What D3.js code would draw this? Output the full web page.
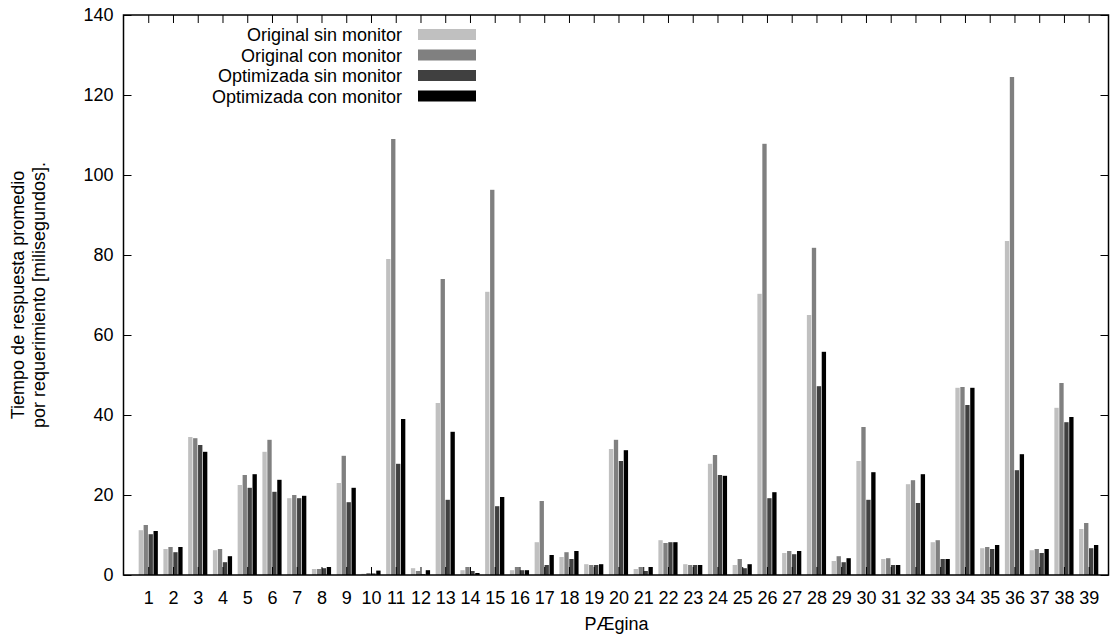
<!DOCTYPE html>
<html>
<head>
<meta charset="utf-8">
<script src="https://cdn.jsdelivr.net/npm/d3@7"></script>
<style>
  body { margin: 0; background: #fff; }
  text { font-family: "Liberation Sans", Arial, sans-serif; }
</style>
</head>
<body>
<div id="chart"></div>
<script>
// pages 1..39
var paginas = d3.range(1, 40);
var series = ["Original sin monitor", "Original con monitor", "Optimizada sin monitor", "Optimizada con monitor"];
var colores = ["#c0c0c0", "#808080", "#404040", "#000000"];

var origSin = [11.2,6.5,34.5,6.2,22.5,30.8,19.2,1.5,23,0.3,79,1.7,43,1.2,70.8,1.2,8.2,4.5,2.7,31.5,
               1.5,8.7,2.7,27.8,2.5,70.3,5.5,65,3.5,28.5,4,22.7,8.2,46.8,6.7,83.5,6.2,41.8,11.5];
var origCon = [12.5,7,34.2,6.5,25,33.8,20,1.5,29.8,0.5,109,1,74,2,96.3,2,18.5,5.7,2.5,33.8,
               2,8,2.5,30,4,107.8,6,81.8,4.7,37,4.2,23.7,8.7,47,7,124.5,6.5,48,13];
var optSin  = [10.2,5.7,32.5,3.2,21.8,20.8,19.2,1.7,18.2,0.4,27.8,0.2,18.8,1,17.2,1.2,2.5,4,2.5,28.5,
               1,8.2,2.5,25,1.7,19.2,5.2,47.2,3.2,18.8,2.5,18,4,42.5,6.5,26.2,5.5,38.2,6.7];
var optCon  = [11,7,30.8,4.7,25.2,23.8,19.8,2,21.8,1.1,39,1.2,35.8,0.5,19.5,1.2,5,6,2.7,31.2,
               2,8.2,2.5,24.8,2.7,20.7,6,55.8,4.2,25.7,2.5,25.2,4,46.8,7.5,30.2,6.5,39.5,7.5];
var valores = [origSin, origCon, optSin, optCon];
var yTicks = [0, 20, 40, 60, 80, 100, 120, 140];

const W = 1110, H = 641;
const plotL = 123.5, plotR = 1108.5, plotT = 15, plotB = 575;
const fontSize = "18px";

var svg = d3.select("#chart").append("svg")
  .attr("width", W)
  .attr("height", H);

var x = d3.scaleLinear().domain([0, 39.8]).range([plotL, plotR]);
var y = d3.scaleLinear().domain([0, 140]).range([plotB, plotT]);

var step = 0.2, bw = 0.175; // bar spacing and width in x units

// bars
valores.forEach(function(vals, k) {
  svg.append("g").selectAll("rect")
    .data(vals)
    .enter().append("rect")
    .attr("x", function(d, i) { return x(paginas[i] + (k - 1.5) * step - bw / 2); })
    .attr("width", x(bw) - x(0))
    .attr("y", function(d) { return y(d); })
    .attr("height", function(d) { return y(0) - y(d); })
    .style("fill", colores[k]);
});

// axes, ticks pointing inward like gnuplot
var tickLen = 8;
var axL = svg.append("g").attr("transform", "translate(" + plotL + ",0)")
  .call(d3.axisLeft(y).tickValues(yTicks).tickSize(-tickLen).tickPadding(10));
var axR = svg.append("g").attr("transform", "translate(" + plotR + ",0)")
  .call(d3.axisRight(y).tickValues(yTicks).tickSize(-tickLen).tickFormat(""));
var axB = svg.append("g").attr("transform", "translate(0," + plotB + ")")
  .call(d3.axisBottom(x).tickValues(paginas).tickSize(-tickLen).tickPadding(16).tickFormat(d3.format("d")));
var axT = svg.append("g").attr("transform", "translate(0," + plotT + ")")
  .call(d3.axisTop(x).tickValues(paginas).tickSize(-tickLen).tickFormat(""));

[axL, axR, axB, axT].forEach(function(a) {
  a.select(".domain").remove();
  a.selectAll(".tick line").style("stroke", "#000").style("stroke-width", 1);
  a.selectAll("text").style("font-size", fontSize).style("fill", "#000")
    .style("font-family", "'Liberation Sans', Arial, sans-serif");
});

svg.append("rect")
  .attr("x", plotL).attr("y", plotT)
  .attr("width", plotR - plotL).attr("height", plotB - plotT)
  .style("fill", "none").style("stroke", "#000").style("stroke-width", 1.5);

// axis titles
svg.append("text")
  .attr("x", x(20) - 2).attr("y", 630)
  .attr("text-anchor", "middle")
  .style("font-size", fontSize)
  .text("PÆgina");

var yt = svg.append("text")
  .attr("transform", "translate(24,295) rotate(-90)")
  .attr("text-anchor", "middle")
  .style("font-size", fontSize);
yt.append("tspan").attr("x", 0).attr("dy", 0).text("Tiempo de respuesta promedio");
yt.append("tspan").attr("x", 0).attr("dy", 21).text("por requerimiento [milisegundos].");

// legend
var leg = svg.append("g").selectAll("g")
  .data(series)
  .enter().append("g")
  .attr("transform", function(d, i) { return "translate(0," + (34.5 + i * 20.5) + ")"; });
leg.append("text")
  .attr("x", 402).attr("y", 6.5)
  .attr("text-anchor", "end")
  .style("font-size", fontSize)
  .text(function(d) { return d; });
leg.append("rect")
  .attr("x", 418).attr("y", -5.5)
  .attr("width", 58).attr("height", 11)
  .style("fill", function(d, i) { return colores[i]; });
</script>
</body>
</html>
